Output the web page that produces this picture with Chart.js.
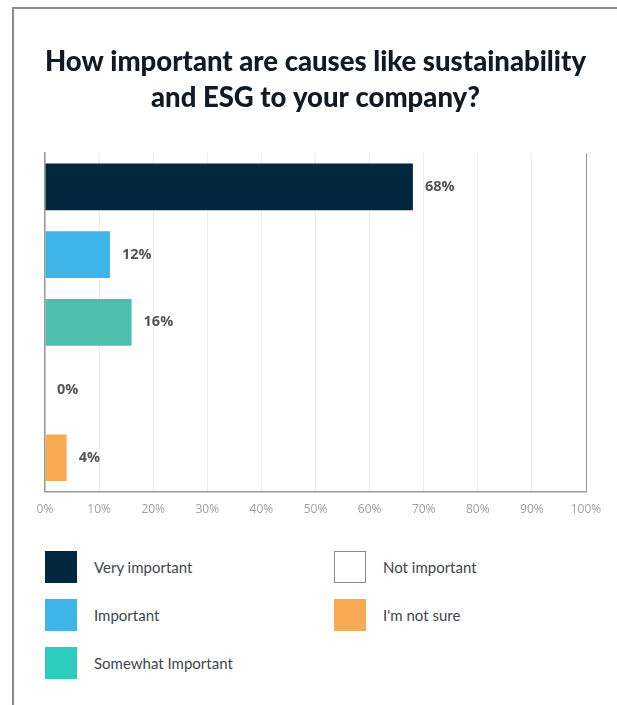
<!DOCTYPE html>
<html>
<head>
<meta charset="utf-8">
<script src="https://cdn.jsdelivr.net/npm/chart.js@4.4.1/dist/chart.umd.min.js"></script>
<style>
  body { margin: 0; background: #fff; width: 617px; height: 705px; overflow: hidden; position: relative; }
  .frame { position: absolute; left: 12px; top: 7px; right: 0; bottom: 0; border-left: 2px solid #8a8a8a; border-top: 2px solid #8a8a8a; }
  #wrap { position: absolute; left: 0; top: 0; width: 617px; height: 544px; }
  #legend { position: absolute; left: 45px; top: 551px; display: grid; grid-auto-flow: column;
            grid-template-rows: repeat(3, 32px); grid-template-columns: 289px 240px; row-gap: 16px; }
  .item { display: flex; align-items: center; font-family: Lato, sans-serif; font-size: 15px; color: #42464c; }
  .box { width: 32px; height: 32px; margin-right: 17px; box-sizing: border-box; }
</style>
</head>
<body>
<div class="frame"></div>
<div id="wrap"><canvas id="esgChart"></canvas></div>
<div id="legend"></div>
<script>
var categories = ['Very important', 'Important', 'Somewhat Important', 'Not important', "I'm not sure"];
var percents = [68, 12, 16, 0, 4];
var barColors = ['#02273e', '#3db5e6', '#4cc0ad', '#ffffff', '#f7aa52'];
var swatchColors = ['#02273e', '#3db5e6', '#2ccebb', '#ffffff', '#f7aa52'];
var xTicks = [0, 10, 20, 30, 40, 50, 60, 70, 80, 90, 100];

// legend boxes, two columns
var legend = document.getElementById('legend');
for (let i = 0; i < categories.length; i++) {
    var item = document.createElement('div');
    item.className = 'item';
    var box = document.createElement('div');
    box.className = 'box';
    box.style.background = swatchColors[i];
    if (percents[i] === 0) box.style.border = '1.5px solid #8a8a8a';
    var txt = document.createElement('span');
    txt.textContent = categories[i];
    item.appendChild(box);
    item.appendChild(txt);
    legend.appendChild(item);
}

// percentage text right of each bar
var barLabels = {
    id: 'barLabels',
    afterDatasetsDraw(chart) {
        var ctx = chart.ctx;
        var meta = chart.getDatasetMeta(0);
        ctx.save();
        ctx.font = 'bold 14.5px "Open Sans", sans-serif';
        ctx.fillStyle = '#555555';
        ctx.textBaseline = 'middle';
        ctx.textAlign = 'left';
        meta.data.forEach(function (bar, i) {
            ctx.fillText(percents[i] + '%', bar.x + 12, bar.y);
        });
        ctx.restore();
    }
};

var ctx = document.getElementById('esgChart').getContext('2d');
var myChart = new Chart(ctx, {
    type: 'bar',
    data: {
        labels: categories,
        datasets: [{
            data: percents,
            backgroundColor: barColors,
            borderWidth: 0,
            categoryPercentage: 1,
            barPercentage: 0.69
        }]
    },
    options: {
        indexAxis: 'y',
        responsive: true,
        maintainAspectRatio: false,
        animation: false,
        layout: { padding: { left: 45, right: 31, top: 44, bottom: 16 } },
        plugins: {
            legend: { display: false },
            tooltip: { enabled: false },
            title: {
                display: true,
                text: ['How important are causes like sustainability', 'and ESG to your company?'],
                color: '#111a22',
                font: { family: 'Lato', size: 27.5, weight: 900, lineHeight: 1.31 },
                padding: { top: 0, bottom: 37 }
            }
        },
        scales: {
            x: {
                min: 0,
                max: 100,
                afterBuildTicks: function (axis) {
                    axis.ticks = xTicks.map(function (v) { return { value: v }; });
                },
                ticks: {
                    color: '#a0a0a0',
                    padding: 11,
                    font: { family: 'Open Sans', size: 12 },
                    callback: function (v) { return v + '%'; }
                },
                grid: {
                    drawTicks: false,
                    lineWidth: 1,
                    color: function (c) { return c.tick && c.tick.value === 100 ? '#9a9a9a' : '#ececec'; }
                },
                border: { display: true, color: '#9a9a9a', width: 1.5 }
            },
            y: {
                ticks: { display: false },
                grid: { display: false, drawTicks: false },
                border: { display: true, color: '#9a9a9a', width: 1.5 }
            }
        }
    },
    plugins: [barLabels]
});
</script>
</body>
</html>
